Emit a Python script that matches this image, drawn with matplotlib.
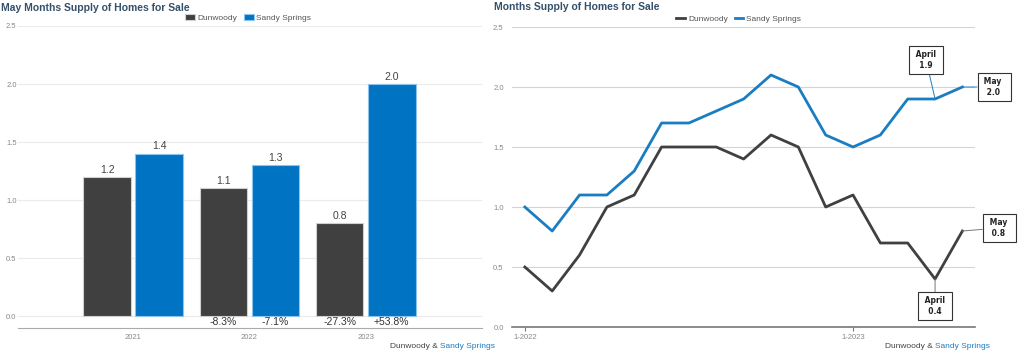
import matplotlib
matplotlib.use("Agg")
import matplotlib.pyplot as plt
import numpy as np

plt.rcParams['font.family'] = ['Liberation Sans', 'DejaVu Sans']

# ---- data ----
years = ['2021', '2022', '2023']
dunwoody_may = [1.2, 1.1, 0.8]
sandy_may = [1.4, 1.3, 2.0]
dunwoody_change = ['', '-8.3%', '-27.3%']
sandy_change = ['', '-7.1%', '+53.8%']

months = ['1-2022', '2-2022', '3-2022', '4-2022', '5-2022', '6-2022', '7-2022', '8-2022',
          '9-2022', '10-2022', '11-2022', '12-2022', '1-2023', '2-2023', '3-2023',
          '4-2023', '5-2023']
dunwoody_monthly = [0.5, 0.3, 0.6, 1.0, 1.1, 1.5, 1.5, 1.5, 1.4, 1.6, 1.5, 1.0, 1.1, 0.7, 0.7, 0.4, 0.8]
sandy_monthly = [1.0, 0.8, 1.1, 1.1, 1.3, 1.7, 1.7, 1.8, 1.9, 2.1, 2.0, 1.6, 1.5, 1.6, 1.9, 1.9, 2.0]

DARK = '#404040'
BLUE = '#0073c2'
LINE_BLUE = '#1a7dc2'
TITLE = '#34506a'
TICK = '#888888'

W, H = 1024, 351
fig = plt.figure(figsize=(W / 100, H / 100), dpi=100)


def px_axes(x0, y_top, x1, y_bot):
    return fig.add_axes([x0 / W, 1 - y_bot / H, (x1 - x0) / W, (y_bot - y_top) / H])


# ---- left: bar chart ----
ax1 = px_axes(18, 26, 482, 328)
x = np.arange(len(years))
bw = 0.41
off = 0.224
b1 = ax1.bar(x - off, dunwoody_may, bw, color=DARK, edgecolor='#d0d0d0', linewidth=0.8,
             label='Dunwoody', zorder=3)
b2 = ax1.bar(x + off, sandy_may, bw, color=BLUE, edgecolor='#8cc4ec', linewidth=0.8,
             label='Sandy Springs', zorder=3)
for bars in (b1, b2):
    for r in bars:
        ax1.text(r.get_x() + r.get_width() / 2, r.get_height() + 0.02, f'{r.get_height():.1f}',
                 ha='center', va='bottom', fontsize=7.5, color='#444444')
for i in range(len(years)):
    ax1.text(x[i] - off, -0.055, dunwoody_change[i], ha='center', va='center',
             fontsize=7.5, color='#333333')
    ax1.text(x[i] + off, -0.055, sandy_change[i], ha='center', va='center',
             fontsize=7.5, color='#333333')

ax1.set_xlim(-0.99, 3.0)
ax1.set_ylim(-0.103, 2.5)
ax1.set_yticks([0, 0.5, 1.0, 1.5, 2.0, 2.5])
ax1.set_yticklabels(['0.0', '0.5', '1.0', '1.5', '2.0', '2.5'])
ax1.set_xticks(x)
ax1.set_xticklabels(years)
ax1.grid(axis='y', color='#ebebeb', linewidth=0.8, zorder=0)
for s in ['top', 'right', 'left']:
    ax1.spines[s].set_visible(False)
ax1.spines['bottom'].set_color('#aaaaaa')
ax1.tick_params(axis='y', length=0, labelsize=5.5, labelcolor=TICK, pad=1)
ax1.tick_params(axis='x', length=0, labelsize=5.5, labelcolor=TICK, pad=4)
ax1.legend(loc='lower center', bbox_to_anchor=(0.496, 1.0), ncol=2, frameon=False,
           fontsize=6, labelcolor='#555555', handlelength=1.2, handleheight=0.9,
           handletextpad=0.3, columnspacing=0.8, borderaxespad=0.1)

# ---- right: line chart ----
ax2 = px_axes(512, 27, 975, 327)
t = np.arange(len(months))
ax2.plot(t, dunwoody_monthly, color=DARK, linewidth=2, label='Dunwoody', zorder=3)
ax2.plot(t, sandy_monthly, color=LINE_BLUE, linewidth=2, label='Sandy Springs', zorder=3)
ax2.set_xlim(-0.47, 16.46)
ax2.set_ylim(0, 2.5)
ax2.set_yticks([0, 0.5, 1.0, 1.5, 2.0, 2.5])
ax2.set_yticklabels(['0.0', '0.5', '1.0', '1.5', '2.0', '2.5'])
ax2.set_xticks([0, 12])
ax2.set_xticklabels([months[0], months[12]])
ax2.grid(axis='y', color='#d4d4d4', linewidth=0.8, zorder=0)
for s in ['top', 'right', 'left']:
    ax2.spines[s].set_visible(False)
ax2.spines['bottom'].set_color('#777777')
ax2.spines['bottom'].set_linewidth(1.2)
ax2.tick_params(axis='y', length=0, labelsize=5.5, labelcolor=TICK, pad=6)
ax2.tick_params(axis='x', length=3, color='#777777', labelsize=5.5, labelcolor=TICK, pad=2)
ax2.legend(loc='lower center', bbox_to_anchor=(0.49, 1.0), ncol=2, frameon=False,
           fontsize=6, labelcolor='#555555', handlelength=1.0, handletextpad=0.4,
           columnspacing=0.8, borderaxespad=0.1)

box = dict(boxstyle='square,pad=0.5', facecolor='white', edgecolor='#333333', linewidth=0.8)
notes = [
    (15, sandy_monthly[15], 14.67, 2.225, 'April', LINE_BLUE),
    (16, sandy_monthly[16], 17.16, 2.0, 'May', LINE_BLUE),
    (16, dunwoody_monthly[16], 17.35, 0.825, 'May', '#777777'),
    (15, dunwoody_monthly[15], 15.0, 0.175, 'April', '#777777'),
]
for xi, yi, tx, ty, name, c in notes:
    label = f'{name}\n{yi:.1f}'
    label = '\n'.join(s.center(7) if name == 'April' else s.center(6) for s in label.split('\n'))
    ax2.annotate(label, xy=(xi, yi), xytext=(tx, ty), ha='center', va='center',
                 fontsize=5.5, fontweight='bold', color='#222222', family='DejaVu Sans',
                 multialignment='center', linespacing=1.3,
                 bbox=box, annotation_clip=False, zorder=5,
                 arrowprops=dict(arrowstyle='-', color=c, linewidth=0.7, shrinkA=0, shrinkB=0))

# ---- titles ----
fig.text(1 / W, 1 - 8 / H, 'May Months Supply of Homes for Sale', ha='left', va='center',
         fontsize=7.5, fontweight='bold', color=TITLE)
fig.text(494 / W, 1 - 7 / H, 'Months Supply of Homes for Sale', ha='left', va='center',
         fontsize=7.5, fontweight='bold', color=TITLE)

# ---- source captions ----
renderer = fig.canvas.get_renderer()
for xr in (495, 990):
    t2 = fig.text(xr / W, 1 - 346 / H, 'Sandy Springs', ha='right', va='center',
                  fontsize=6, color=LINE_BLUE)
    bb = t2.get_window_extent(renderer)
    fig.text(bb.x0 / W, 1 - 346 / H, 'Dunwoody & ', ha='right', va='center',
             fontsize=6, color='#444444')

fig.savefig('out.png', dpi=100)
